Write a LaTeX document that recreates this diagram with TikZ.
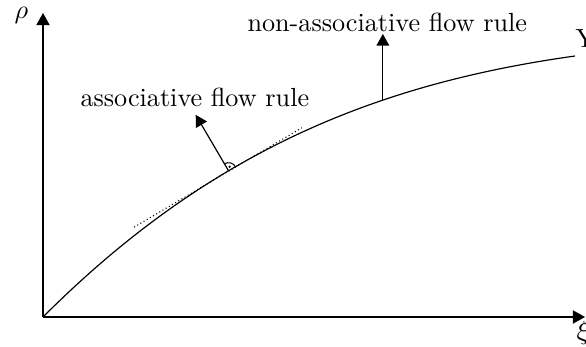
\documentclass[tikz,border=0pt]{standalone}
\usetikzlibrary{arrows.meta,calc,angles}
\begin{document}
\begin{tikzpicture}[x=0.382pt,y=0.382pt,
  axis/.style={line width=0.5pt,-{Triangle[length=4.6pt,width=5pt]}},
  flowarrow/.style={line width=0.45pt,-{Triangle[length=4.4pt,width=4.8pt]}},
  curveline/.style={line width=0.45pt},
  lbl/.style={inner sep=0pt,anchor=base west}]
\useasboundingbox (0,0) rectangle (586,347);
% axes
\coordinate (O) at (43,30);
\coordinate (Ytip) at (43,334);
\coordinate (Xtip) at (585,30);
\coordinate (E) at (575,291);
\coordinate (top) at (0,313);
\draw[axis] (O) -- (Ytip);
\draw[axis] (O) -- (Xtip);
% yield curve
\draw[curveline] (O) .. controls (208,195) and (375,263) .. (E)
  coordinate[pos=0.36] (Ta) coordinate[pos=0.37] (T) coordinate[pos=0.38] (Tb)
  coordinate[pos=0.663] (N);
% tangent (dotted)
\coordinate (Tl) at ($(T)!42pt!(Ta)$);
\coordinate (Tr) at ($(T)!32.5pt!(Tb)$);
\draw[densely dotted, line width=0.4pt] (Tl) -- (Tr);
% associative (normal) arrow
\coordinate (Nt) at ($(T)!24.8pt!90:(Tb)$);
\draw[flowarrow] (T) -- (Nt);
\pic[draw, line width=0.4pt, angle radius=3.1pt] {angle=Tb--T--Nt};
\fill ($(T)!1.6pt!45:(Tb)$) circle[radius=0.45pt];
% non-associative arrow
\draw[flowarrow] (N) -- (N |- top);
% labels
\node[lbl] (rho) at (14,328) {$\rho$};
\node[lbl] (xi) at (576,7) {$\xi$};
\node[lbl] (Y) at (575,299) {Y};
\node[lbl] (nonassoc) at (247,315) {non-associative flow rule};
\node[lbl] (assoc) at (80,240) {associative flow rule};
\end{tikzpicture}
\end{document}
